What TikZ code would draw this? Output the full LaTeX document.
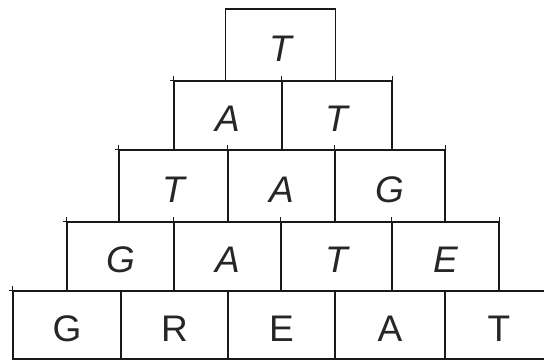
\documentclass[tikz,border=0pt]{standalone}
\usepackage{fontspec}
\setmainfont{Liberation Sans}
\begin{document}
\begin{tikzpicture}[x=1pt,y=-1pt,
  cell/.style={draw=black!90, line width=1.2pt, rectangle, inner sep=0pt},
  lettr/.style={text=black!85, font=\fontsize{37}{40}\selectfont, yshift=-3.5pt},
  ital/.style={lettr, font=\fontsize{37}{40}\selectfont\itshape},
  tick/.style={draw=black!90, line width=1.2pt}]
\useasboundingbox (0,0) rectangle (544,360);
\clip (0,0) rectangle (544,360);
% row 1
\node[cell, minimum width=110pt, minimum height=72pt, label={[ital]center:T}] (a1) at (280.5,45) {};
% row 2
\node[cell, minimum width=108pt, minimum height=69pt, label={[ital]center:A}] (b1) at (228,115.5) {};
\node[cell, minimum width=110pt, minimum height=69pt, label={[ital]center:T}] (b2) at (337,115.5) {};
% row 3
\node[cell, minimum width=109pt, minimum height=72pt, label={[ital]center:T}] (c1) at (173.5,186) {};
\node[cell, minimum width=107pt, minimum height=72pt, label={[ital]center:A}] (c2) at (281.5,186) {};
\node[cell, minimum width=110pt, minimum height=72pt, label={[ital]center:G}] (c3) at (390,186) {};
% row 4
\node[cell, minimum width=107pt, minimum height=69pt, label={[ital]center:G}] (d1) at (120.5,256.5) {};
\node[cell, minimum width=107pt, minimum height=69pt, label={[ital]center:A}] (d2) at (227.5,256.5) {};
\node[cell, minimum width=111pt, minimum height=69pt, label={[ital]center:T}] (d3) at (336.5,256.5) {};
\node[cell, minimum width=107pt, minimum height=69pt, label={[ital]center:E}] (d4) at (445.5,256.5) {};
% row 5
\node[cell, minimum width=108pt, minimum height=68pt, label={[lettr]center:G}] (e1) at (67,325) {};
\node[cell, minimum width=107pt, minimum height=68pt, label={[lettr]center:R}] (e2) at (174.5,325) {};
\node[cell, minimum width=107pt, minimum height=68pt, label={[lettr]center:E}] (e3) at (281.5,325) {};
\node[cell, minimum width=110pt, minimum height=68pt, label={[lettr]center:A}] (e4) at (390,325) {};
\node[cell, minimum width=108pt, minimum height=68pt, label={[lettr]center:T}] (e5) at (499,325) {};
% small overshoot ticks at row corners
\foreach \n in {b1,b2,c1,c2,c3,d1,d2,d3,d4,e1}
  \draw[tick] (\n.north west) -- ++(0,-4);
\foreach \n in {b2,c3,d4}
  \draw[tick] (\n.north east) -- ++(0,-4);
\foreach \n in {b1,c1,d1,e1}
  \draw[tick] (\n.north west) -- ++(-3,0);
\end{tikzpicture}
\end{document}
